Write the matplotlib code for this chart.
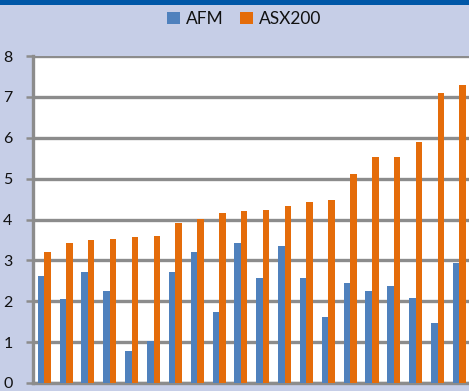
import matplotlib
matplotlib.use("Agg")
import matplotlib.pyplot as plt
import numpy as np
from matplotlib.patches import Rectangle

# Series values per observation (sorted by ASX200)
afm = [2.61, 2.05, 2.72, 2.26, 0.78, 1.03, 2.72, 3.20, 1.73, 3.43,
       2.57, 3.35, 2.57, 1.62, 2.44, 2.26, 2.37, 2.08, 1.48, 2.93]
asx200 = [3.20, 3.42, 3.49, 3.52, 3.56, 3.60, 3.91, 4.02, 4.16, 4.20,
          4.23, 4.34, 4.44, 4.48, 5.11, 5.54, 5.54, 5.89, 7.09, 7.30]
series_names = ["AFM", "ASX200"]
y_ticks = [0, 1, 2, 3, 4, 5, 6, 7, 8]

blue = "#4F81BD"
orange = "#E46C0A"
bg = "#C6CEE7"
grid_col = "#8C8C8C"

plt.rcParams["font.family"] = ["Lato", "DejaVu Sans"]

fig = plt.figure(figsize=(4.69, 3.91), dpi=100, facecolor=bg)
# dark header band
fig.patches.append(Rectangle((0, 1 - 5 / 391), 1, 5 / 391, transform=fig.transFigure,
                             facecolor="#0057A8", edgecolor="none", zorder=5))

ax = fig.add_axes([33.3 / 469, 8 / 391, (470.4 - 33.3) / 469, (383 - 56) / 391])
ax.set_facecolor("white")

x = np.arange(len(afm))
w = 0.3
ax.bar(x - w / 2, afm, width=w, color=blue, label=series_names[0], zorder=3)
ax.bar(x + w / 2, asx200, width=w, color=orange, label=series_names[1], zorder=3)

ax.set_xlim(-0.5, len(afm) - 0.5)
ax.set_ylim(0, 8)
ax.set_yticks(y_ticks)
ax.set_yticklabels([str(t) for t in y_ticks], fontsize=11.5, color="#111111")
ax.set_xticks([])
ax.yaxis.grid(True, color=grid_col, linewidth=2.4)
ax.set_axisbelow(True)
ax.tick_params(axis="y", length=5, width=1.8, color=grid_col, pad=10)

for s in ["top", "right"]:
    ax.spines[s].set_visible(False)
ax.spines["left"].set_color(grid_col)
ax.spines["left"].set_linewidth(2.4)
ax.spines["bottom"].set_color(grid_col)
ax.spines["bottom"].set_linewidth(2.4)

fig.legend(loc="center", bbox_to_anchor=(244 / 469, 1 - 19 / 391), ncol=2, frameon=False,
           fontsize=12.5, handlelength=0.75, handleheight=0.75, handletextpad=0.35,
           columnspacing=0.9, labelcolor="#111111")

fig.savefig("out.png", dpi=100, facecolor=bg)
